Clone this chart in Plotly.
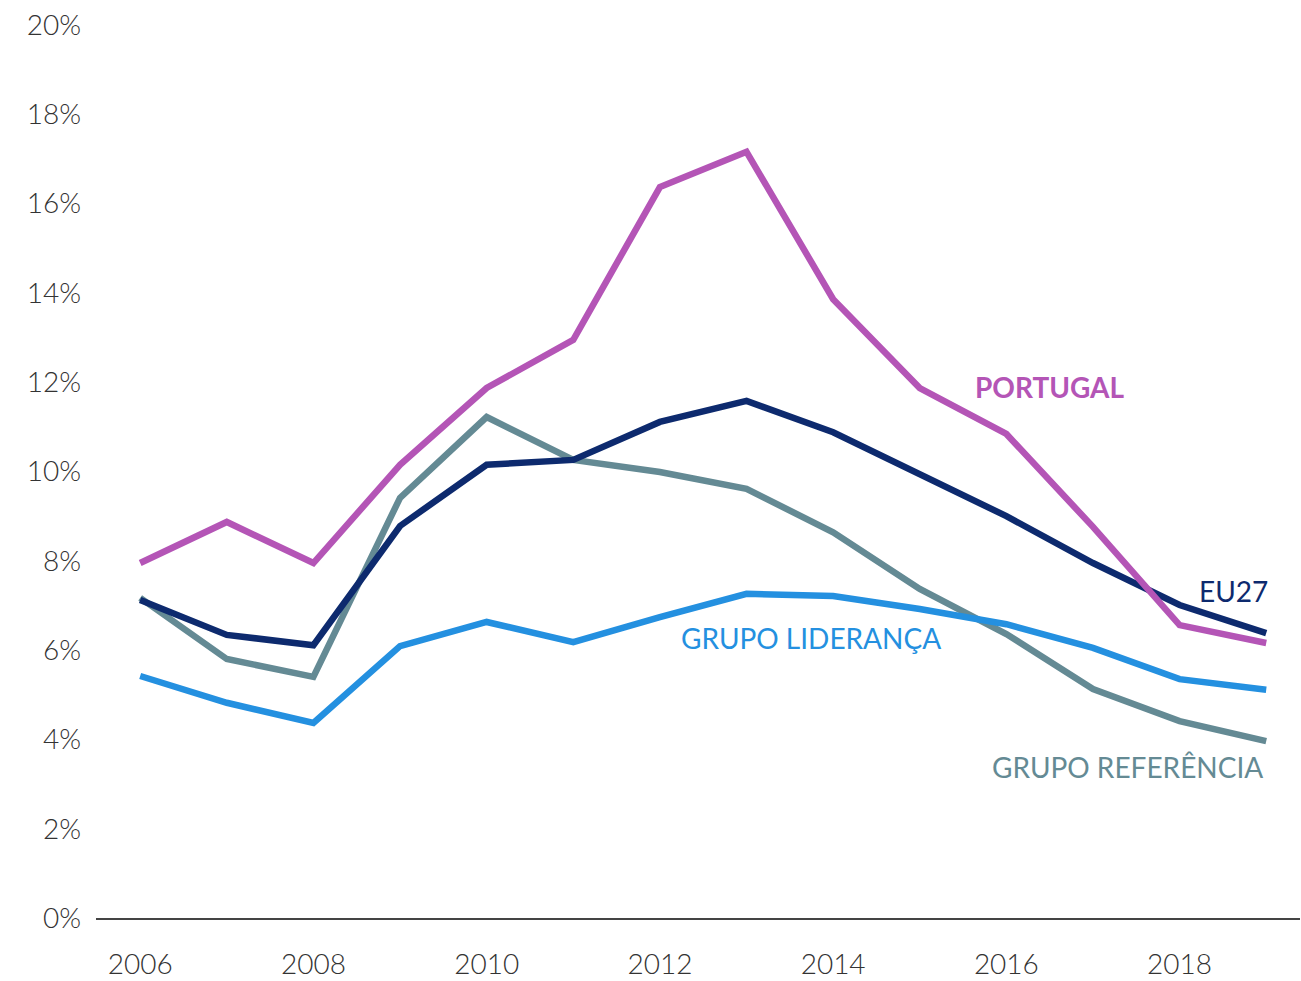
import plotly.graph_objects as go

years = list(range(2006, 2020))
portugal = [7.95, 8.87, 7.95, 10.15, 11.87, 12.95, 16.37, 17.16, 13.86, 11.87, 10.84, 8.76, 6.56, 6.16]
eu27 = [7.12, 6.34, 6.11, 8.78, 10.15, 10.26, 11.11, 11.58, 10.88, 9.92, 9.00, 7.95, 7.01, 6.38]
referencia = [7.17, 5.80, 5.40, 9.41, 11.22, 10.26, 9.99, 9.61, 8.64, 7.37, 6.36, 5.13, 4.41, 3.96]
lideranca = [5.42, 4.82, 4.37, 6.09, 6.63, 6.18, 6.74, 7.26, 7.21, 6.92, 6.58, 6.05, 5.35, 5.11]

x_ticks = [2006, 2008, 2010, 2012, 2014, 2016, 2018]
y_ticks = [0, 2, 4, 6, 8, 10, 12, 14, 16, 18, 20]
y_labels = [f"{v}%" for v in y_ticks]

series = [
    ("GRUPO REFERÊNCIA", referencia, "#648a94"),
    ("GRUPO LIDERANÇA", lideranca, "#2490e0"),
    ("EU27", eu27, "#0d2a6e"),
    ("PORTUGAL", portugal, "#b455b6"),
]

fig = go.Figure()
for name, vals, col in series:
    fig.add_trace(go.Scatter(x=years, y=vals, mode="lines", name=name,
                             line=dict(color=col, width=6.5)))

labels = [
    ("<b>PORTUGAL</b>", 2016.50, 11.89, "#b455b6"),
    ("EU27", 2018.62, 7.32, "#0d2a6e"),
    ("GRUPO LIDERANÇA", 2013.74, 6.27, "#2490e0"),
    ("GRUPO REFERÊNCIA", 2017.40, 3.38, "#648a94"),
]
for txt, x, y, col in labels:
    fig.add_annotation(x=x, y=y, text=txt, showarrow=False, xanchor="center",
                       yanchor="middle", font=dict(color=col, size=28, family="Lato"))

fig.update_layout(
    width=1301, height=981,
    margin=dict(l=96, r=1, t=25, b=63),
    paper_bgcolor="white", plot_bgcolor="white",
    showlegend=False,
    font=dict(family="Lato", color="#333333", size=28),
    xaxis=dict(range=[2005.49, 2019.39], tickvals=x_ticks, showgrid=False,
               zeroline=False, showline=True, linecolor="#444444", linewidth=1.5,
               ticks="", ticklabelstandoff=21, automargin=False,
               tickfont=dict(size=28, color="#333333", family="Lato Light, Lato")),
    yaxis=dict(range=[0, 20], tickvals=y_ticks, ticktext=y_labels, showgrid=False,
               zeroline=False, showline=False, ticks="", ticklabelstandoff=14,
               automargin=False,
               tickfont=dict(size=28, color="#333333", family="Lato Light, Lato")),
)
fig.write_html("out.html", config={"displayModeBar": False},
               post_script="document.body.style.margin='0';document.body.style.overflow='hidden';")
